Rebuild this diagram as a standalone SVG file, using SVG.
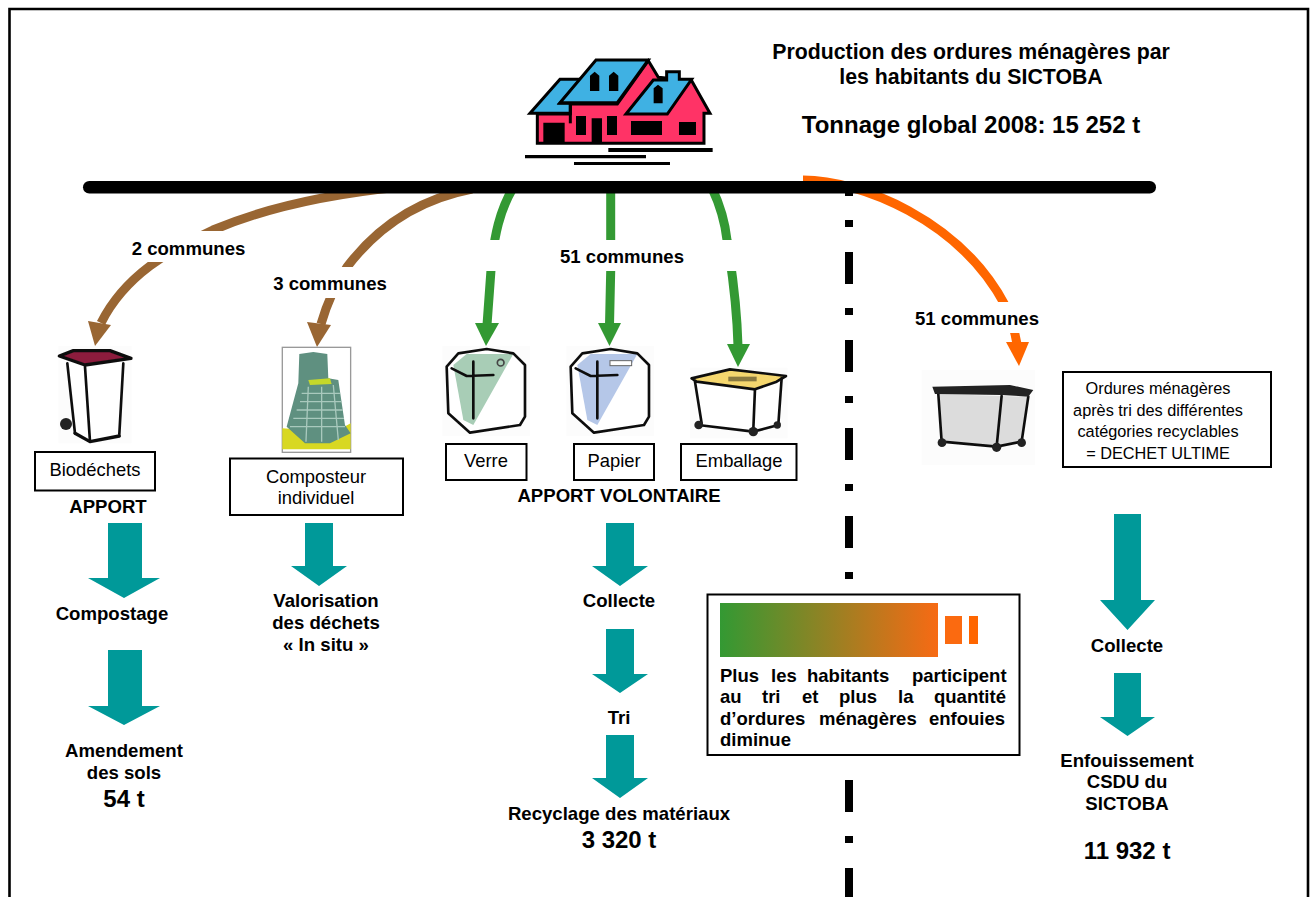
<svg xmlns="http://www.w3.org/2000/svg" width="1314" height="897" viewBox="0 0 1314 897">
<style>
text{font-family:"Liberation Sans",Arial,sans-serif;fill:#000}
.b{font-weight:bold;font-size:18.6px;text-anchor:middle}
.n{font-size:18.4px;text-anchor:middle}
.u{font-size:16.3px;text-anchor:middle}
.big{font-weight:bold;font-size:24px;text-anchor:middle}
.t{font-weight:bold;font-size:21.3px;text-anchor:middle}
.j{font-weight:bold;font-size:18.5px}
.box{fill:#fff;stroke:#000;stroke-width:2}
.teal{fill:#009999}
.cg{fill:none;stroke:#339933;stroke-width:9}
.cb{fill:none;stroke:#996633;stroke-width:9}
.co{fill:none;stroke:#ff6600;stroke-width:9}
.k{fill:none;stroke:#111;stroke-linecap:round;stroke-linejoin:round}
.bg{fill:#fcfcfc}
</style>
<defs>
<linearGradient id="grad" x1="0" x2="1" y1="0" y2="0"><stop offset="0" stop-color="#339933"/><stop offset="1" stop-color="#f76a14"/></linearGradient>
<filter id="soft" x="-5%" y="-5%" width="110%" height="110%"><feGaussianBlur stdDeviation="0.55"/></filter>
</defs>
<rect width="1314" height="897" fill="#fff"/>
<path d="M9.5,897V9H1308V897" fill="none" stroke="#000" stroke-width="2.6"/>

<g id="separator"><path d="M849,193V897" fill="none" stroke="#000" stroke-width="8" stroke-dasharray="7 25 32 24" stroke-dashoffset="-27"/></g>

<g id="connectors">
<path class="co" d="M803,180C860,180 960,220 1005,305C1010,316 1014,326 1017,344"/>
<polygon fill="#ff6600" points="1006,342 1029,342 1019,366"/>
<path class="cb" d="M400,187C320,195 260,210 213,230C170,250 125,275 101,323"/>
<polygon fill="#996633" points="88,321 111,325 95,346"/>
<path class="cb" d="M472,189C415,200 375,230 347,267C335,285 328,300 321,324"/>
<polygon fill="#996633" points="307,322 331,325 317,347"/>
<path class="cg" d="M513,188C500,210 494,235 491,270L487,325"/>
<polygon fill="#339933" points="475,323 499,323 486,346"/>
<path class="cg" d="M610.7,188V271L609.5,325"/>
<polygon fill="#339933" points="598,323 621,323 609.5,346"/>
<path class="cg" d="M712,188C720,205 725,222 727,240C732,270 737,310 738,346"/>
<polygon fill="#339933" points="727,344 750,344 738,367"/>
</g>
<rect id="bar" x="83" y="181" width="1073" height="12.5" rx="6.25"/>

<g id="house" transform="translate(510 40) scale(.3333)">
<polygon points="82,222 180,222 180,192 322,192 415,62 445,112 545,122 600,220 582,220 582,310 82,310" fill="#ff3366" stroke="#000" stroke-width="9"/>
<polygon points="60,220 150,118 212,118 150,190 181,190 181,220" fill="#3fb1e3" stroke="#000" stroke-width="9"/>
<polygon points="258,60 415,60 322,188 150,188" fill="#3fb1e3" stroke="#000" stroke-width="9"/>
<polygon points="348,222 430,120 470,120 470,95 508,95 508,118 545,118 472,222" fill="#3fb1e3" stroke="#000" stroke-width="9"/>
<path d="M181,188V250" stroke="#000" stroke-width="9"/>
<path d="M240,107L254,95L268,107V153H240ZM297,107L311,95L325,107V153H297ZM431,145L444,134L458,145V190H431ZM100,248H164V310H100ZM198,228H228V285H198ZM245,235H276V306H245ZM291,228H321V285H291ZM363,243H456V285H363ZM507,246H558V285H507ZM295,324H608V336H295ZM45,345H408V355H45ZM192,366H480V375H192Z"/>
</g>

<g id="title">
<text class="t" x="971" y="59">Production des ordures ménagères par</text>
<text class="t" x="971" y="84">les habitants du SICTOBA</text>
<text class="big" x="971" y="133">Tonnage global 2008: 15 252 t</text>
</g>

<g id="label-2-communes"><rect x="120" y="231" width="140" height="31" fill="#fff"/><text class="b" x="188.5" y="255">2 communes</text></g>
<g id="label-3-communes"><rect x="262" y="267" width="140" height="31" fill="#fff"/><text class="b" x="330" y="290">3 communes</text></g>
<g id="label-51-tri"><rect x="480" y="240" width="270" height="31" fill="#fff"/><text class="b" x="622" y="263">51 communes</text></g>
<g id="label-51-ultime"><rect x="905" y="302" width="145" height="31" fill="#fff"/><text class="b" x="977" y="325">51 communes</text></g>

<g id="bin-biodechets" transform="translate(30 330) scale(.3333)" filter="url(#soft)">
<rect class="bg" x="85" y="48" width="220" height="292"/>
<polygon points="112,95 165,105 280,95 268,312 180,335 135,310" fill="#fff"/>
<polygon points="88,78 130,62 240,62 303,85 165,105" fill="#8c1a3c" stroke="#111" stroke-width="10" stroke-linejoin="round"/>
<path class="k" stroke-width="8" d="M112,100L135,310M165,110L180,335M280,100L268,312"/>
<path class="k" stroke-width="10" d="M135,310L180,335L268,318"/>
<circle cx="108" cy="282" r="18" fill="#222"/>
</g>

<g id="composter" transform="translate(30 330) scale(.3333)" filter="url(#soft)">
<rect x="757" y="52" width="205" height="315" fill="#fff" stroke="#999" stroke-width="4"/>
<polygon points="757,295 830,300 890,320 962,280 962,358 757,358" fill="#d8d820"/>
<polygon points="808,72 850,66 892,72 895,145 925,150 945,285 962,310 900,340 825,340 770,290 805,160" fill="#5e9080"/>
<polygon points="835,150 900,145 905,162 840,165" fill="#c5d82c"/>
<path d="M815,190H930M810,215H935M800,240H938M790,265H942M780,290H945M835,170L828,335M875,170V335M910,165L925,330" stroke="#a9c9bd" stroke-width="4" fill="none"/>
</g>

<g id="bin-verre" transform="translate(430 330) scale(.3333)" filter="url(#soft)">
<rect class="bg" x="37" y="48" width="263" height="270"/>
<polygon points="50,110 85,70 170,55 250,70 285,105 285,260 270,285 120,308 55,250" fill="#fff"/>
<polygon points="70,105 110,72 250,72 130,285 100,270" fill="#a8cdb6"/>
<path class="k" stroke-width="8" d="M50,110L85,70L170,57L250,70L285,105L285,260L270,285L120,308L55,250ZM130,95L130,265M65,115L110,138L190,135"/>
<circle cx="212" cy="98" r="10" fill="none" stroke="#444" stroke-width="5"/>
</g>
<g id="bin-papier" transform="translate(554 330) scale(.3333)" filter="url(#soft)">
<rect class="bg" x="37" y="48" width="263" height="270"/>
<polygon points="50,110 85,70 170,55 250,70 285,105 285,260 270,285 120,308 55,250" fill="#fff"/>
<polygon points="70,105 110,72 250,72 130,285 100,270" fill="#b5c7e8"/>
<path class="k" stroke-width="8" d="M50,110L85,70L170,57L250,70L285,105L285,260L270,285L120,308L55,250ZM130,95L130,265M65,115L110,138L190,135"/>
<rect x="168" y="92" width="65" height="15" fill="#fff" stroke="#666" stroke-width="3"/>
</g>
<g id="bin-emballage" transform="translate(430 330) scale(.3333)" filter="url(#soft)">
<rect class="bg" x="780" y="113" width="293" height="212"/>
<polygon points="795,155 975,178 1055,145 1045,285 970,305 805,285" fill="#fff"/>
<polygon points="785,145 900,118 1068,138 1040,155 975,178 800,155" fill="#f5d76e" stroke="#111" stroke-width="8" stroke-linejoin="round"/>
<rect x="895" y="140" width="85" height="14" fill="#8a7a40"/>
<path class="k" stroke-width="8" d="M795,155L815,280M975,178L970,300M1055,145L1045,285M805,285L970,305L1045,285"/>
<circle cx="806" cy="285" r="13" fill="#222"/><circle cx="970" cy="305" r="14" fill="#222"/><circle cx="1042" cy="285" r="11" fill="#222"/>
</g>
<g id="bin-ultime" transform="translate(700 170) scale(.3333)" filter="url(#soft)">
<rect class="bg" x="665" y="600" width="340" height="285"/>
<polygon points="715,672 905,678 890,830 725,815" fill="#dcdcdc"/>
<polygon points="905,678 985,680 965,815 890,830" fill="#dcdcdc"/>
<path class="k" stroke-width="8" d="M715,672L725,815L890,830L965,815L985,680M905,678L890,830"/>
<polygon points="697,650 930,645 1000,660 985,680 905,675 705,672" fill="#222"/>
<circle cx="726" cy="818" r="13" fill="#222"/><circle cx="890" cy="832" r="14" fill="#222"/><circle cx="965" cy="818" r="13" fill="#222"/>
</g>

<g id="node-biodechets"><rect class="box" x="35" y="452" width="120" height="38.5"/><text class="n" x="95" y="476">Biodéchets</text></g>
<g id="node-composteur"><rect class="box" x="230" y="458.5" width="173" height="56.5"/><text class="n" x="316" y="483">Composteur</text><text class="n" x="316" y="504">individuel</text></g>
<g id="node-verre"><rect class="box" x="446" y="444" width="80.500" height="36"/><text class="n" x="486" y="467">Verre</text></g>
<g id="node-papier"><rect class="box" x="574" y="444" width="80" height="36"/><text class="n" x="614" y="467">Papier</text></g>
<g id="node-emballage"><rect class="box" x="681" y="444" width="115.500" height="36"/><text class="n" x="739" y="467">Emballage</text></g>
<g id="node-ultime"><rect class="box" x="1063" y="372" width="208" height="95"/>
<text class="u" x="1158" y="394">Ordures ménagères</text><text class="u" x="1158" y="416">après tri des différentes</text><text class="u" x="1158" y="437">catégories recyclables</text><text class="u" x="1158" y="459">= DECHET ULTIME</text></g>

<g id="teal-arrows" class="teal">
<polygon points="108,523 142,523 142,578 160,578 124,598 88,578 108,578"/>
<polygon points="108,650 142,650 142,706 160,706 124,725 88,706 108,706"/>
<polygon points="305,523 333,523 333,566 347,566 319,586 291,566 305,566"/>
<polygon points="606,523 634,523 634,566 648,566 620,586 592,566 606,566"/>
<polygon points="606,629 634,629 634,674 648,674 620,693 592,674 606,674"/>
<polygon points="606,735 634,735 634,778 648,778 620,798 592,778 606,778"/>
<polygon points="1114,514 1141,514 1141,600 1155,600 1127.500,630 1100,600 1114,600"/>
<polygon points="1114,673 1141,673 1141,717 1155,717 1127.500,736 1100,717 1114,717"/>
</g>

<g id="flow-labels">
<text class="b" x="108" y="513">APPORT</text>
<text class="b" x="112" y="620">Compostage</text>
<text class="b" x="124" y="757">Amendement</text>
<text class="b" x="124" y="779">des sols</text>
<text class="big" x="124" y="807">54 t</text>
<text class="b" x="326" y="607">Valorisation</text>
<text class="b" x="326" y="629">des déchets</text>
<text class="b" x="326" y="651">« In situ »</text>
<text class="b" x="619" y="502">APPORT VOLONTAIRE</text>
<text class="b" x="619" y="607">Collecte</text>
<text class="b" x="619" y="724">Tri</text>
<text class="b" x="619" y="820">Recyclage des matériaux</text>
<text class="big" x="619" y="848">3 320 t</text>
<text class="b" x="1127" y="652">Collecte</text>
<text class="b" x="1127" y="767">Enfouissement</text>
<text class="b" x="1127" y="788">CSDU du</text>
<text class="b" x="1127" y="810">SICTOBA</text>
<text class="big" x="1127" y="859">11 932 t</text>
</g>

<g id="legend">
<rect class="box" x="707.500" y="594.500" width="312" height="160.500" stroke-width="2.500"/>
<rect x="720" y="603" width="218" height="54" fill="url(#grad)"/>
<rect x="945" y="616" width="17" height="28" fill="#fb6a10"/>
<rect x="969" y="616" width="9" height="28" fill="#ff6600"/>
<text class="j" y="682"><tspan x="720">Plus</tspan><tspan x="771">les</tspan><tspan x="807">habitants</tspan><tspan x="912">participent</tspan></text>
<text class="j" y="703"><tspan x="720">au</tspan><tspan x="762">tri</tspan><tspan x="802">et</tspan><tspan x="839">plus</tspan><tspan x="898">la</tspan><tspan x="934">quantité</tspan></text>
<text class="j" y="725"><tspan x="720">d’ordures</tspan><tspan x="819">ménagères</tspan><tspan x="929">enfouies</tspan></text>
<text class="j" y="746"><tspan x="720">diminue</tspan></text>
</g>
</svg>
